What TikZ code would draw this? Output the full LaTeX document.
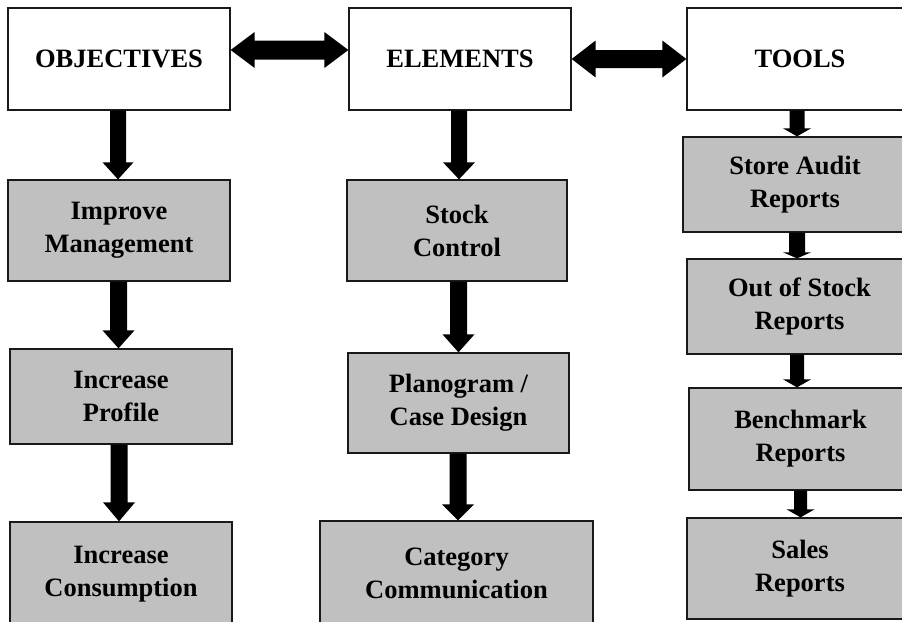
\documentclass[tikz,border=0pt]{standalone}
\usepackage{fontspec}
\setmainfont{Liberation Serif}
\usetikzlibrary{calc}
\definecolor{boxgray}{RGB}{192,192,192}
% vertical block arrow: #1 start, #2 end, #3 half shaft, #4 half head, #5 head length
\newcommand\vblk[5]{%
  \fill let \p1=(#1), \p2=(#2) in
    (\x1-#3,\y1) -- (\x1+#3,\y1) -- (\x1+#3,\y2+#5) -- (\x1+#4,\y2+#5)
    -- (\x1,\y2) -- (\x1-#4,\y2+#5) -- (\x1-#3,\y2+#5) -- cycle;}
% horizontal double block arrow: #1 start, #2 end, #3 half shaft, #4 half head, #5 head length
\newcommand\hblk[5]{%
  \fill let \p1=(#1), \p2=(#2) in
    (\x1,\y1) -- (\x1+#5,\y1+#4) -- (\x1+#5,\y1+#3) -- (\x2-#5,\y1+#3)
    -- (\x2-#5,\y1+#4) -- (\x2,\y1) -- (\x2-#5,\y1-#4) -- (\x2-#5,\y1-#3)
    -- (\x1+#5,\y1-#3) -- (\x1+#5,\y1-#4) -- cycle;}
\begin{document}
\begin{tikzpicture}[x=1pt,y=-1pt,
  hdr/.style={draw=black!90, line width=1.3pt, fill=white, align=center,
    font=\fontsize{26.5}{33}\selectfont\bfseries, inner sep=0pt},
  item/.style={hdr, fill=boxgray}]
\useasboundingbox (0,0) rectangle (902,621);
\clip (0,0) rectangle (902,621);
% headers
\node[hdr, minimum width=222pt, minimum height=102pt] (obj) at (119,59) {OBJECTIVES};
\node[hdr, minimum width=222pt, minimum height=102pt] (ele) at (460,59) {ELEMENTS};
\node[hdr, minimum width=226pt, minimum height=102pt] (tools) at (800,59) {TOOLS};
% objectives column
\node[item, minimum width=222pt, minimum height=101pt] (imp) at (119,230.5) {Improve\\Management};
\node[item, minimum width=222pt, minimum height=95pt] (inc) at (121,396.5) {Increase\\Profile};
\node[item, minimum width=222pt, minimum height=104pt] (con) at (121,574) {Increase\\Consumption};
% elements column
\node[item, minimum width=220pt, minimum height=101pt] (stock) at (457,230.5) {Stock\\Control};
\node[item, minimum width=221pt, minimum height=100pt] (plano) at (458.5,403) {Planogram /\\Case Design};
\node[item, minimum width=273pt, minimum height=104pt] (cat) at (456.5,573) {Category\\Communication};
% tools column
\node[item, minimum width=224pt, minimum height=95pt] (store) at (795,184.5) {Store Audit\\Reports};
\node[item, minimum width=225pt, minimum height=95pt] (oos) at (799.5,306.5) {Out of Stock\\Reports};
\node[item, minimum width=223pt, minimum height=102pt] (bench) at (800.5,439) {Benchmark\\Reports};
\node[item, minimum width=226pt, minimum height=101pt] (sales) at (800,568.5) {Sales\\Reports};
% horizontal double arrows
\hblk{[yshift=9pt]obj.east}{[yshift=9pt]ele.west}{9.5pt}{18pt}{24pt}
\hblk{ele.east}{tools.west}{9pt}{18.5pt}{24pt}
% vertical arrows
\vblk{[xshift=-1pt]obj.south}{imp.north}{8pt}{15.5pt}{17pt}
\vblk{[xshift=-0.5pt]imp.south}{inc.north}{8.5pt}{16pt}{18pt}
\vblk{[xshift=-2pt]inc.south}{con.north}{8.5pt}{16pt}{19pt}
\vblk{[xshift=-1pt]ele.south}{stock.north}{8pt}{16pt}{17pt}
\vblk{[xshift=1.5pt]stock.south}{plano.north}{8.5pt}{16pt}{18pt}
\vblk{[xshift=-0.5pt]plano.south}{cat.north}{8.5pt}{16pt}{16pt}
\vblk{[xshift=-3pt]tools.south}{store.north}{7.5pt}{14pt}{8pt}
\vblk{[xshift=2pt]store.south}{oos.north}{8pt}{14pt}{6pt}
\vblk{[xshift=-2.5pt]oos.south}{bench.north}{7pt}{14pt}{8pt}
\vblk{bench.south}{sales.north}{6.5pt}{14pt}{8pt}
\end{tikzpicture}
\end{document}
